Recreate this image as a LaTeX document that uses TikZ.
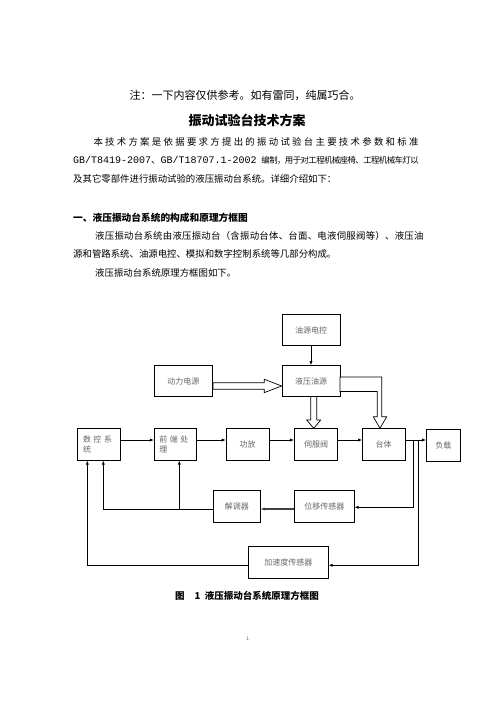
\documentclass[tikz,border=0pt]{standalone}
\usepackage{fontspec}
\setmainfont{Noto Sans CJK SC}
\newfontfamily\mono{Liberation Mono}
\usetikzlibrary{arrows.meta,calc}
\XeTeXinterchartokenstate=1
\newXeTeXintercharclass\CJKcls
\newcount\cc
\cc="3000 \loop\ifnum\cc<"3040 \XeTeXcharclass\cc=\CJKcls \advance\cc by 1 \repeat
\cc="4E00 \loop\ifnum\cc<"A000 \XeTeXcharclass\cc=\CJKcls \advance\cc by 1 \repeat
\cc="FF00 \loop\ifnum\cc<"FFF0 \XeTeXcharclass\cc=\CJKcls \advance\cc by 1 \repeat
\XeTeXinterchartoks\CJKcls\CJKcls={\hskip0pt plus 3pt minus 1pt\relax}
\tikzset{
  blk/.style={draw, line width=0.7pt, inner sep=0pt, font=\fontsize{8}{10.5}\selectfont, text=black!60},
  arr/.style={line width=0.7pt, -{Latex[length=4pt,width=3.2pt]}},
  ln/.style={line width=0.7pt},
  hol/.style={draw, line width=0.7pt, fill=white, line join=miter},
  body/.style={inner sep=0pt, anchor=west, font=\fontsize{9.4}{12}\selectfont},
}
\begin{document}
\begin{tikzpicture}[x=1pt,y=-1pt]
\useasboundingbox (0,0) rectangle (496,702);
\fill[white] (0,0) rectangle (496,702);
% ---- text ----
\node[inner sep=0pt, font=\fontsize{11}{13}\selectfont] (note) at (245,95) {注：一下内容仅供参考。如有雷同，纯属巧合。};
\node[inner sep=0pt, font=\fontsize{13}{15}\selectfont\bfseries] (title) at (247,120) {振动试验台技术方案};
\node[body] (p1) at (93.3,141.7) {\makebox[325pt][s]{本技术方案是依据要求方提出的振动试验台主要技术参数和标准}};
\node[body] (p2) at (73,160) {\makebox[345.5pt][s]{{\mono\fontsize{10}{12}\selectfont GB/T8419-2007}、{\mono\fontsize{10}{12}\selectfont GB/T18707.1-2002 }{\fontsize{8.4}{12}\selectfont 编制，用于对工程机械座椅、工程机械车灯以}}};
\node[body] (p3) at (73,178.7) {及其它零部件进行振动试验的液压振动台系统。详细介绍如下：};
\node[body, font=\fontsize{9.7}{12}\selectfont\bfseries] (h1) at (73,217.3) {一、液压振动台系统的构成和原理方框图};
\node[body] (q1) at (95,236) {\makebox[328.3pt][s]{液压振动台系统由液压振动台（含振动台体、台面、电液伺服阀等）、液压油}};
\node[body] (q2) at (73,254.3) {源和管路系统、油源电控、模拟和数字控制系统等几部分构成。};
\node[body] (q3) at (95,272.7) {液压振动台系统原理方框图如下。};
% ---- boxes ----
\node[blk, minimum width=58pt, minimum height=31pt] (oyk) at (311,330.2) {油源电控};
\node[blk, minimum width=58.7pt, minimum height=31pt] (dly) at (183.3,381) {动力电源};
\node[blk, minimum width=58pt, minimum height=31pt] (yyy) at (311,381) {液压油源};
\node[blk, minimum width=43.4pt, minimum height=32pt, text width=32pt, align=left] (sk) at (99,444.3) {数\hspace{2.5pt}控\hspace{2.5pt}系\\统};
\node[blk, minimum width=42.3pt, minimum height=32pt, text width=32pt, align=left] (qd) at (175.3,444.3) {前\hspace{2.5pt}端\hspace{2.5pt}处\\理};
\node[blk, minimum width=43.3pt, minimum height=32pt] (gf) at (247.7,444.3) {功放};
\node[blk, minimum width=43.4pt, minimum height=32pt] (sf) at (316,444.3) {伺服阀};
\node[blk, minimum width=42.7pt, minimum height=32pt] (tt) at (383.7,444.3) {台体};
\node[blk, minimum width=34.2pt, minimum height=32.5pt] (fz) at (443.4,445.2) {负载};
\node[blk, minimum width=60pt, minimum height=32.3pt] (wy) at (324.3,506.2) {位移传感器};
\node[blk, minimum width=47pt, minimum height=32.3pt] (jt) at (236.8,506.2) {解调器};
\node[blk, minimum width=80pt, minimum height=31.6pt] (js) at (288.3,562.5) {加速度传感器};
% ---- connectors ----
\coordinate (ya) at (0,440);
\draw[arr] (oyk.south) -- (yyy.north);
\draw[arr] (sk.east |- ya) -- (qd.west |- ya);
\draw[arr] (qd.east |- ya) -- (gf.west |- ya);
\draw[arr] (gf.east |- ya) -- (sf.west |- ya);
\draw[arr] (sf.east |- ya) -- (tt.west |- ya);
\draw[arr] (tt.east |- ya) -- (fz.west |- ya);
\coordinate (xd) at (413.3,507.3);
\coordinate (xa) at (418.3,565.3);
\draw[arr] (xd |- ya) -- (xd) -- (wy.east |- xd);
\draw[arr] (xa |- ya) -- (xa) -- (js.east |- xa);
\coordinate (fb1) at (103.3,509);
\coordinate (br) at (179.3,509);
\draw[arr, line width=1.1pt, draw=black!75] (wy.west |- fb1) -- (jt.east |- fb1);
\draw[arr] (jt.west |- fb1) -- (fb1) -- (sk.south -| fb1);
\draw[arr] (br) -- (qd.south -| br);
\coordinate (fb2) at (87.3,565.3);
\draw[arr] (js.west |- fb2) -- (fb2) -- (sk.south -| fb2);
% hollow arrows
\draw[hol] (dly.east |- 0,382.7) -- (264.3,382.7) -- (264.3,379.3) -- (yyy.west |- 0,386) -- (264.3,392.6) -- (264.3,389.3) -- (dly.east |- 0,389.3) -- cycle;
\draw[hol] (310.7,396.5) -- (310.7,420) -- (306.7,420) -- (313.7,428.3) -- (320.7,420) -- (316.7,420) -- (316.7,396.5) -- cycle;
\draw[hol] (340,377) -- (381.7,377) -- (381.7,416.7) -- (386.7,416.7) -- (380,428.3) -- (373.3,416.7) -- (377.3,416.7) -- (377.3,391.5) -- (340,391.5) -- cycle;
% caption and page number
\node[inner sep=0pt, anchor=west, font=\fontsize{9.5}{12}\selectfont\bfseries] (cap) at (175,596) {图\hspace{10pt}1\hspace{4.5pt}液压振动台系统原理方框图};
\node[inner sep=0pt, font=\fontsize{5}{6}\selectfont, text=black!60] (pg) at (247.7,639) {1};
\end{tikzpicture}
\end{document}
